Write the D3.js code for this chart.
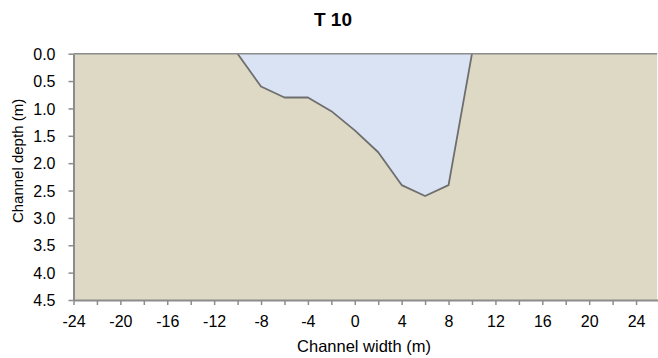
<!DOCTYPE html>
<html>
<head>
<meta charset="utf-8">
<script src="https://cdn.jsdelivr.net/npm/d3@7"></script>
<style>
  body { margin: 0; background: #fff; }
  text { font-family: "Liberation Sans", Arial, sans-serif; fill: #000; }
</style>
</head>
<body>
<div id="chart"></div>
<script>
// channel cross-section T 10
var widthPts = [-10, -8, -6, -4, -2, 0, 2, 4, 6, 8, 10];
var depthPts = [0, 0.6, 0.8, 0.8, 1.05, 1.4, 1.8, 2.4, 2.6, 2.4, 0];
var xTicks = [-24, -22, -20, -18, -16, -14, -12, -10, -8, -6, -4, -2, 0, 2, 4, 6, 8, 10, 12, 14, 16, 18, 20, 22, 24];
var yTicks = [0, 0.5, 1, 1.5, 2, 2.5, 3, 3.5, 4, 4.5];

var svgWidth = 658;
var svgHeight = 358;

var svg = d3.select("#chart")
  .append("svg")
  .attr("width", svgWidth)
  .attr("height", svgHeight);

var x = d3.scaleLinear().domain([-24, 26]).range([73.5, 659.5]);
var y = d3.scaleLinear().domain([0, 4.5]).range([53.7, 300]);

var data = widthPts.map((w, i) => ({ w: w, d: depthPts[i] }));

// ground
svg.append("rect")
  .attr("x", x(-24))
  .attr("y", y(0))
  .attr("width", x(25.8) - x(-24))
  .attr("height", y(4.5) - y(0))
  .attr("fill", "#ddd9c4");

// water
var line = d3.line().x(d => x(d.w)).y(d => y(d.d));
svg.append("path")
  .datum(data)
  .attr("d", line)
  .attr("fill", "#dae3f3")
  .attr("stroke", "#6e6e6e")
  .attr("stroke-width", 1.8)
  .attr("stroke-linejoin", "round");

// water surface / top line
svg.append("line")
  .attr("x1", x(-24)).attr("x2", x(25.8))
  .attr("y1", y(0)).attr("y2", y(0))
  .attr("stroke", "#8c8c8c")
  .attr("stroke-width", 1.5);

// axes
var xAxis = d3.axisBottom(x)
  .tickValues(xTicks)
  .tickSize(5)
  .tickSizeOuter(0)
  .tickFormat(d => (d % 4 === 0 ? d : ""));

var gx = svg.append("g")
  .attr("transform", `translate(0, ${y(4.5)})`)
  .call(xAxis);

var yAxis = d3.axisLeft(y)
  .tickValues(yTicks)
  .tickSize(5)
  .tickSizeOuter(0)
  .tickFormat(d3.format(".1f"));

var gy = svg.append("g")
  .attr("transform", `translate(${x(-24)}, 0)`)
  .call(yAxis);

[gx, gy].forEach(function(g) {
  g.select(".domain").attr("stroke", "#8c8c8c").attr("stroke-width", 2);
  g.selectAll(".tick line").attr("stroke", "#8c8c8c").attr("stroke-width", 1.5);
  g.selectAll(".tick text")
    .attr("font-size", "16px")
    .attr("font-family", "Liberation Sans, Arial, sans-serif")
    .attr("fill", "#000");
});
gx.selectAll(".tick text").attr("y", 26.5).attr("dy", "0");
gy.selectAll(".tick text").attr("x", -18).attr("dy", "0.35em");

// title
svg.append("text")
  .attr("x", 333)
  .attr("y", 26)
  .attr("text-anchor", "middle")
  .attr("font-size", "19px")
  .attr("font-weight", "bold")
  .text("T 10");

// axis labels
svg.append("text")
  .attr("x", 364)
  .attr("y", 352)
  .attr("text-anchor", "middle")
  .attr("font-size", "16.5px")
  .text("Channel width (m)");

svg.append("text")
  .attr("transform", "rotate(-90)")
  .attr("x", -161)
  .attr("y", 23)
  .attr("text-anchor", "middle")
  .attr("font-size", "15px")
  .text("Channel depth (m)");
</script>
</body>
</html>
